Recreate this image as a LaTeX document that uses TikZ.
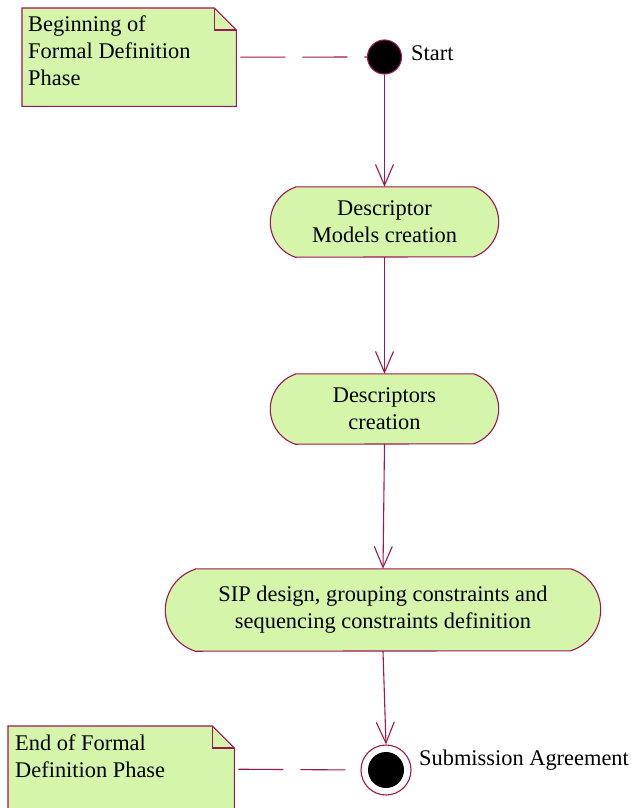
\documentclass[tikz,border=0pt]{standalone}
\usepackage{fontspec}
\setmainfont{Liberation Serif}
\usetikzlibrary{arrows.meta,backgrounds}

\definecolor{umlline}{RGB}{160,22,82}
\definecolor{umlfill}{RGB}{212,245,170}

\tikzset{
  uml/.style={line width=1.1pt, draw=umlline},
  txt/.style={font=\fontsize{22.4}{27}\selectfont, inner sep=0pt},
  notetext/.style={txt, align=left, anchor=north west},
  actbox/.style={txt, align=center, minimum width=#1, minimum height=70pt},
  flow/.style={uml, -{Straight Barb[length=21pt, width=18pt, line width=1.1pt]}},
  anchorline/.style={uml, dash pattern=on 45pt off 17pt, shorten <=4pt},
  initial/.style={circle, uml, fill=black, minimum size=34pt, inner sep=0pt},
  final/.style={circle, uml, minimum size=50pt, inner sep=0pt,
    path picture={\fill[black] (path picture bounding box.center) circle (18pt);}},
  notebox/.style={inner sep=0pt, anchor=north west}
}

% action outline: straight top and bottom, circular end caps meeting them at a corner
% #1 node, #2 depth of each cap, #3 half height
\newcommand{\pilloutline}[3]{%
  \pgfmathsetmacro\pillr{(#3*#3+#2*#2)/(2*#2)}%
  \pgfmathsetmacro\pilla{asin(#3/\pillr)}%
  \filldraw[uml, fill=umlfill]
    ([xshift=#2 pt]#1.north west) -- ([xshift=-#2 pt]#1.north east)
    arc[start angle=\pilla, end angle=-\pilla, radius=\pillr pt]
    -- ([xshift=#2 pt]#1.south west)
    arc[start angle=180+\pilla, end angle=180-\pilla, radius=\pillr pt] -- cycle;}

% note outline with folded top-right corner: #1 node, #2 fold size
\newcommand{\noteoutline}[2]{%
  \filldraw[uml, fill=umlfill]
    (#1.north west) -- ([xshift=-#2]#1.north east)
    -- ([yshift=-#2]#1.north east) -- (#1.south east)
    -- (#1.south west) -- cycle;
  \draw[uml] ([xshift=-#2]#1.north east) -- ([xshift=-#2, yshift=-#2]#1.north east)
    -- ([yshift=-#2]#1.north east);}

\begin{document}
\begin{tikzpicture}[x=1pt, y=-1pt]
  \clip (0,0) rectangle (630,808);

  % notes
  \node[notebox, minimum width=214pt, minimum height=98pt] (note1) at (22,8) {};
  \node[notebox, minimum width=226pt, minimum height=86pt] (note2) at (8,726) {};
  \noteoutline{note1}{22pt}
  \noteoutline{note2}{22pt}
  \node[notetext] (note1text) at (28,16) {Beginning of\\Formal Definition\\Phase};
  \node[notetext] (note2text) at (15,735) {End of Formal\\Definition Phase};

  % start and end states
  \node[initial] (start) at (384.5,57) {};
  \node[txt, anchor=base west] (startlbl) at (411,60) {Start};
  \node[final] (stop) at (386,770) {};
  \node[txt, anchor=base west] (stoplbl) at (419,765) {Submission Agreement};

  % actions
  \node[actbox=228pt] (act1) at (384.5,222) {Descriptor\\Models creation};
  \node[actbox=228pt] (act2) at (384.5,409) {Descriptors\\creation};
  \node[actbox=435pt, minimum height=82pt] (act3) at (383,610)
    {SIP design, grouping constraints and\\sequencing constraints definition};
  \begin{scope}[on background layer]
    \fill[white] (0,0) rectangle (630,808);
    \pilloutline{act1}{25}{35}
    \pilloutline{act2}{25}{35}
    \pilloutline{act3}{30}{41}
  \end{scope}

  % control flow
  \draw[flow] (start.south) -- (act1.north);
  \draw[flow] (act1.south) -- (act2.north);
  \draw[flow] (act2.south) -- (act3.north);
  \draw[flow] (act3.south) -- (stop.north);

  % note anchors
  \draw[anchorline] (note1.east) -- (start.west);
  \draw[anchorline] (note2.east) -- (stop.west);
\end{tikzpicture}
\end{document}
